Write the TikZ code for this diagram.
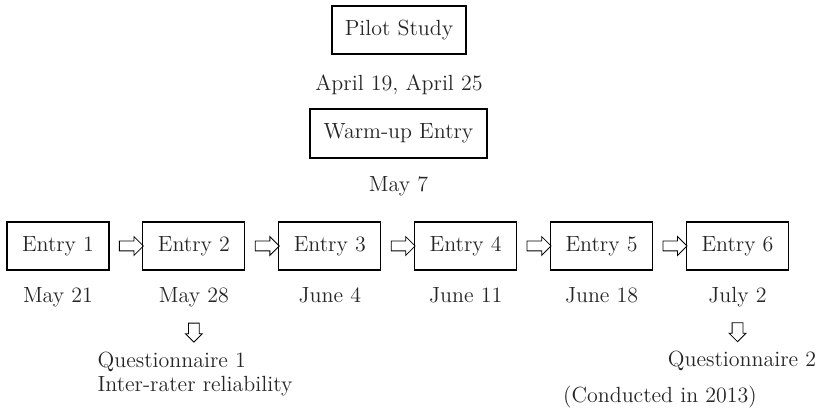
\documentclass[tikz,border=0pt]{standalone}
\usepackage{fontspec}
\usetikzlibrary{shapes.arrows}

\tikzset{
  stagebox/.style={draw, line width=0.6pt, inner sep=0pt, minimum height=0.96cm},
  entrybox/.style={stagebox, minimum width=2.04cm},
  datelabel/.style={inner sep=0pt, anchor=base},
  nextarrow/.style={to path={-- node[pos=.59, sloped, allow upside down, single arrow, draw,
      line width=0.45pt, inner xsep=0pt, inner ysep=0.09cm, minimum height=0.48cm,
      single arrow head extend=0.09cm]{} (\tikztotarget)}},
  downarrow/.style={to path={-- node[midway, sloped, allow upside down, single arrow, draw,
      line width=0.45pt, inner xsep=0pt, inner ysep=0.1cm, minimum height=0.38cm,
      single arrow head extend=0.06cm]{} (\tikztotarget)}}
}

\begin{document}
\begin{tikzpicture}[x=0.02cm, y=0.02cm, font=\fontsize{12.5}{13.7}\selectfont, text=black!85]
\useasboundingbox (0,0) rectangle (817,418);

 \node[stagebox, minimum width=2.68cm] (pilot) at (399,388) {Pilot Study};
 \node[datelabel] (pdate) at (399,327) {April 19, April 25};
 \node[stagebox, minimum width=3.54cm, minimum height=0.98cm] (warm) at (398.5,284.5) {Warm-up Entry};
 \node[datelabel] (wdate) at (398.5,226) {May 7};

 \foreach \i/\d in {1/May 21, 2/May 28, 3/June 4, 4/June 11, 5/June 18, 6/July 2}{
   \node[entrybox] (e\i) at ({58+135.9*(\i-1)},172) {Entry \i};
   \node[datelabel] (d\i) at ({58+135.9*(\i-1)},115) {\d};
 }
 \foreach \i/\j in {1/2, 2/3, 3/4, 4/5, 5/6}
   \path (e\i) to[nextarrow] (e\j);

 \node[inner sep=0pt, align=left, anchor=north] (q1) at (195,66) {Questionnaire 1\\Inter-rater reliability};
 \node[datelabel] (q2) at (742,51) {Questionnaire 2};
 \node[datelabel] (note) at (660,15) {(Conducted in 2013)};

 \path (d2.south) to[downarrow] (d2.south |- q1.north);
 \path (d6.south) to[downarrow] (d6.south |- q2.north);

\end{tikzpicture}
\end{document}
